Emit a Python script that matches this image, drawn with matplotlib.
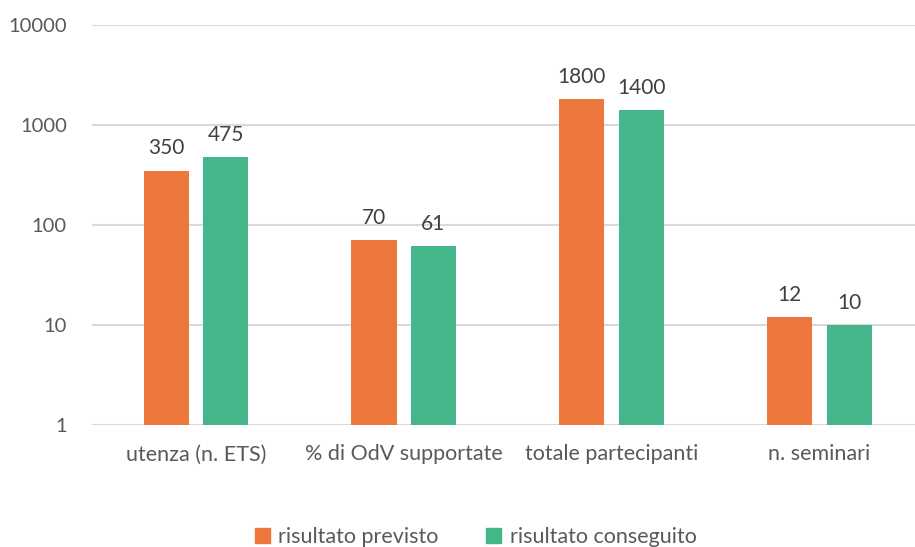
import numpy as np
import matplotlib.pyplot as plt
from matplotlib.patches import Patch

plt.rcParams['font.family'] = ['Lato', 'DejaVu Sans']

categories = ["utenza (n. ETS)", "% di OdV supportate", "totale partecipanti", "n. seminari"]
previsto = [350, 70, 1800, 12]
conseguito = [475, 61, 1400, 10]
series_names = ["risultato previsto", "risultato conseguito"]
yticks = [1, 10, 100, 1000, 10000]

orange = "#EE773D"
green = "#44B689"

fig = plt.figure(figsize=(9.15, 5.47), dpi=100)
ax = fig.add_axes([0.1005, 0.223, 0.8995, 0.7313])

x = np.arange(len(categories))
w = 0.217
off = 0.143
b1 = ax.bar(x - off, previsto, w, color=orange, bottom=1)
b2 = ax.bar(x + off, conseguito, w, color=green, bottom=1)
# bars drawn from 1 on log axis
for bars, vals in ((b1, previsto), (b2, conseguito)):
    for rect, v in zip(bars, vals):
        rect.set_height(v - 1)
        ax.annotate(str(v), (rect.get_x() + rect.get_width() / 2, v),
                    xytext=(0, 9), textcoords="offset points",
                    ha="center", va="bottom", fontsize=15, color="#404040")

ax.set_yscale("log")
ax.set_ylim(1, 10000)
ax.set_xlim(-0.5, 3.46)
ax.set_yticks(yticks)
ax.set_yticklabels([str(t) for t in yticks])
ax.yaxis.set_minor_locator(plt.NullLocator())
ax.set_xticks(x)
ax.set_xticklabels(categories)
ax.tick_params(axis="both", length=0, labelsize=14.5, colors="#595959")
ax.tick_params(axis="x", labelsize=15.5)
ax.tick_params(axis="y", pad=18)
ax.tick_params(axis="x", pad=14)
ax.grid(axis="y", color="#D9D9D9", linewidth=1.5)
ax.set_axisbelow(True)
for s in ax.spines.values():
    s.set_visible(False)

handles = [Patch(color=orange), Patch(color=green)]
fig.legend(handles, series_names, loc="center", bbox_to_anchor=(0.52, 0.018),
           ncol=2, frameon=False, fontsize=15.5, handlelength=0.7, handleheight=0.7,
           columnspacing=2.2, handletextpad=0.4, labelcolor="#595959")

fig.savefig("out.png", dpi=100)
